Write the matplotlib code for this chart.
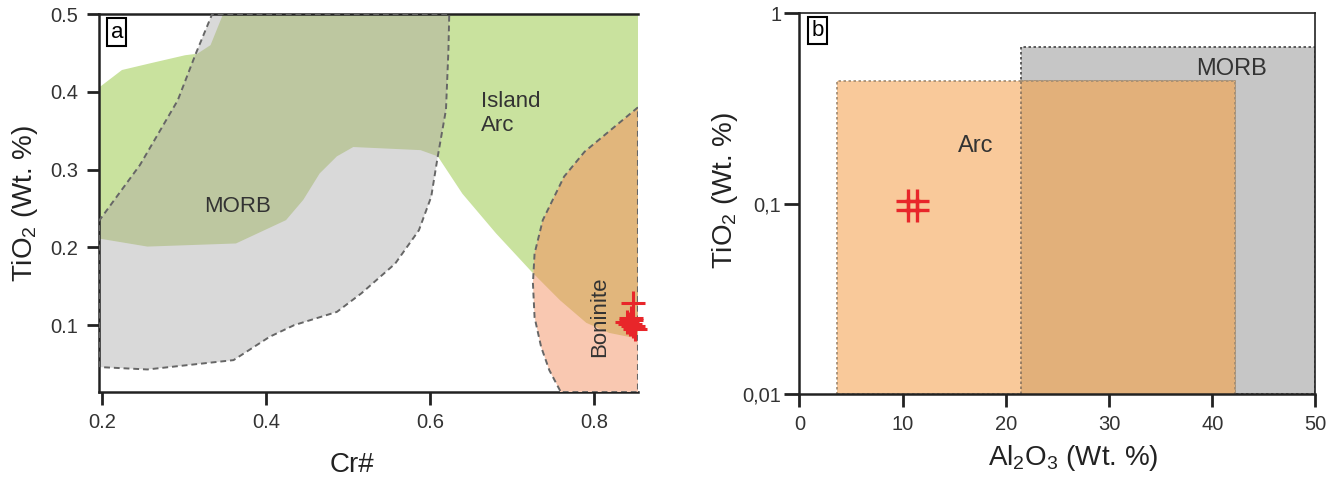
import numpy as np
import matplotlib
matplotlib.use("Agg")
import matplotlib.pyplot as plt
from matplotlib.patches import Polygon, Rectangle
from matplotlib.ticker import FixedLocator, FixedFormatter

plt.rcParams['font.family'] = ['Liberation Sans', 'DejaVu Sans']
plt.rcParams['mathtext.default'] = 'regular'

# ── Panel a: Cr# vs TiO2 fields (digitised outlines) ─────────────
arc_x = [0.355, 0.87, 0.87, 0.851, 0.818, 0.790, 0.758, 0.724, 0.680, 0.639,
         0.609, 0.588, 0.506, 0.486, 0.465, 0.445, 0.424, 0.363, 0.255, 0.198,
         0.18, 0.18, 0.198, 0.224, 0.260, 0.301, 0.316, 0.332]
arc_y = [0.52, 0.52, 0.083, 0.083, 0.090, 0.103, 0.132, 0.168, 0.218, 0.269,
         0.317, 0.325, 0.329, 0.317, 0.295, 0.261, 0.235, 0.205, 0.201, 0.211,
         0.211, 0.407, 0.407, 0.428, 0.437, 0.447, 0.449, 0.460]

morb_x = [0.196, 0.196, 0.246, 0.292, 0.314, 0.334, 0.623, 0.622, 0.619, 0.609,
          0.601, 0.586, 0.557, 0.516, 0.486, 0.434, 0.404, 0.360, 0.255, 0.198]
morb_y = [0.046, 0.234, 0.306, 0.389, 0.449, 0.500, 0.500, 0.454, 0.377, 0.317,
          0.265, 0.222, 0.179, 0.141, 0.117, 0.100, 0.085, 0.055, 0.043, 0.046]

bon_x = [0.853, 0.788, 0.763, 0.737, 0.727, 0.725, 0.727, 0.735, 0.745, 0.758,
         0.758, 0.853]
bon_y = [0.380, 0.323, 0.291, 0.235, 0.192, 0.154, 0.110, 0.072, 0.042, 0.016,
         0.014, 0.014]

cr_a = [0.847, 0.845, 0.840, 0.847, 0.849, 0.843, 0.844]
ti_a = [0.128, 0.109, 0.104, 0.099, 0.095, 0.101, 0.106]

# ── Panel b: Al2O3 vs TiO2 boxes ─────────────────────────────────
arc_box = (3.6, 42.2, 0.01, 0.44)     # x0, x1, y0, y1
morb_box = (21.5, 50.0, 0.01, 0.67)

al_b = [10.55, 11.36, 10.55, 11.36]
ti_b = [0.1035, 0.1035, 0.0926, 0.0926]

GREEN, GREY, OLIVE = "#c9e29e", "#d9d9d9", "#bdc7a0"
PINK, ORANGE = "#f9c8b1", "#e1b67c"
ARC_B, MORB_B, OVER_B = "#f9c99a", "#c6c6c6", "#e2b07a"
TXT = "#333333"

fig = plt.figure(figsize=(13.43, 4.8), dpi=100)
ax1 = fig.add_axes([0.0737, 0.1833, 0.4013, 0.7875])
ax2 = fig.add_axes([0.5952, 0.179, 0.3843, 0.793])

# panel a
green = Polygon(np.column_stack([arc_x, arc_y]), closed=True, fc=GREEN, ec="none", zorder=1)
grey = Polygon(np.column_stack([morb_x, morb_y]), closed=True, fc=GREY, ec="none", zorder=1)
pink = Polygon(np.column_stack([bon_x, bon_y]), closed=True, fc=PINK, ec="none", zorder=1)
for p in (green, grey, pink):
    ax1.add_patch(p)

olive = Polygon(np.column_stack([morb_x, morb_y]), closed=True, fc=OLIVE, ec="none", zorder=2)
ax1.add_patch(olive)
olive.set_clip_path(green)
orange = Polygon(np.column_stack([bon_x, bon_y]), closed=True, fc=ORANGE, ec="none", zorder=2)
ax1.add_patch(orange)
orange.set_clip_path(green)

ax1.plot(morb_x, morb_y, ls=(0, (3, 2)), color="#666666", lw=1.4, zorder=3)
ax1.plot(bon_x + [bon_x[0]], bon_y + [bon_y[0]], ls=(0, (3, 2)), color="#666666",
         lw=1.4, zorder=3)

ax1.plot(cr_a, ti_a, ls="none", marker="+", ms=17, mew=2.2, color="#e8262a",
         zorder=5, clip_on=False)

ax1.text(0.365, 0.252, "MORB", fontsize=16, color=TXT, ha="center", va="center", zorder=6)
ax1.text(0.662, 0.372, "Island\nArc", fontsize=16, color=TXT, ha="left", va="center",
         linespacing=1.2, zorder=6)
ax1.text(0.806, 0.111, "Boninite", fontsize=16, color=TXT, ha="center", va="center",
         rotation=90, zorder=6)

ax1.set_xlim(0.196, 0.853)
ax1.set_ylim(0.014, 0.5)
ax1.set_xticks([0.2, 0.4, 0.6, 0.8])
ax1.set_xticklabels(["0.2", "0.4", "0.6", "0.8"])
ax1.set_yticks([0.1, 0.2, 0.3, 0.4, 0.5])
ax1.set_yticklabels(["0.1", "0.2", "0.3", "0.4", "0.5"])
ax1.spines["right"].set_visible(False)
ax1.spines["bottom"].set_zorder(0.5)
ax1.set_xlabel("Cr#", fontsize=20, color="#222222", va="center")
ax1.set_ylabel("TiO$_2$ (Wt. %)", fontsize=20, color="#222222", va="center")
ax1.xaxis.set_label_coords(0.47, -0.193)
ax1.yaxis.set_label_coords(-0.137, 0.5)
ax1.text(0.033, 0.952, "a", transform=ax1.transAxes, fontsize=16, ha="center", va="center",
         zorder=7, bbox=dict(boxstyle="square,pad=0.15", fc="white", ec="black", lw=1.5))

# panel b
ax2.set_yscale("log")
r_arc = Rectangle((arc_box[0], arc_box[2]), arc_box[1] - arc_box[0], arc_box[3] - arc_box[2],
                  fc=ARC_B, ec="#a08a70", lw=1.2, ls=(0, (1.5, 1.5)), zorder=1)
r_morb = Rectangle((morb_box[0], morb_box[2]), morb_box[1] - morb_box[0],
                   morb_box[3] - morb_box[2], fc=MORB_B, ec="#444444", lw=1.2,
                   ls=(0, (1.5, 1.5)), zorder=1)
ax2.add_patch(r_morb)
ax2.add_patch(r_arc)
r_over = Rectangle((morb_box[0], arc_box[2]), arc_box[1] - morb_box[0],
                   arc_box[3] - arc_box[2], fc=OVER_B, ec="none", zorder=1.5)
ax2.add_patch(r_over)
ax2.plot([morb_box[0], morb_box[0]], [arc_box[2], arc_box[3]], ls=(0, (1.5, 1.5)),
         color="#8a7560", lw=1.2, zorder=2)
ax2.plot([morb_box[0], arc_box[1], arc_box[1]], [arc_box[3], arc_box[3], arc_box[2]],
         ls=(0, (1.5, 1.5)), color="#a08a70", lw=1.2, zorder=2)

ax2.plot(al_b, ti_b, ls="none", marker="+", ms=17, mew=2.4, color="#e8262a", zorder=5)

ax2.text(41.9, 0.51, "MORB", fontsize=17, color=TXT, ha="center", va="center", zorder=6)
ax2.text(17.1, 0.20, "Arc", fontsize=17, color=TXT, ha="center", va="center", zorder=6)

ax2.set_xlim(0, 50)
ax2.set_ylim(0.01, 1)
ax2.set_xticks([0, 10, 20, 30, 40, 50])
ax2.yaxis.set_major_locator(FixedLocator([0.01, 0.1, 1]))
ax2.yaxis.set_major_formatter(FixedFormatter(["0,01", "0,1", "1"]))
ax2.yaxis.set_minor_locator(FixedLocator([]))
ax2.set_xlabel("Al$_2$O$_3$ (Wt. %)", fontsize=20, color="#222222", va="center")
ax2.set_ylabel("TiO$_2$ (Wt. %)", fontsize=20, color="#222222", va="center")
ax2.xaxis.set_label_coords(0.53, -0.168)
ax2.yaxis.set_label_coords(-0.144, 0.536)
ax2.text(0.035, 0.955, "b", transform=ax2.transAxes, fontsize=16, ha="center", va="center",
         zorder=7, bbox=dict(boxstyle="square,pad=0.15", fc="white", ec="black", lw=1.5))

for ax in (ax1, ax2):
    ax.tick_params(direction="out", length=9, width=2, labelsize=14.5, labelcolor=TXT,
                   color="#222222", pad=6)
    for s in ax.spines.values():
        s.set_linewidth(1.8)
        s.set_color("#222222")
ax2.tick_params(axis="y", length=11, pad=2)
ax2.spines["top"].set_linewidth(1.2)
ax2.spines["right"].set_linewidth(1.2)

fig.savefig("out.png", dpi=100)
